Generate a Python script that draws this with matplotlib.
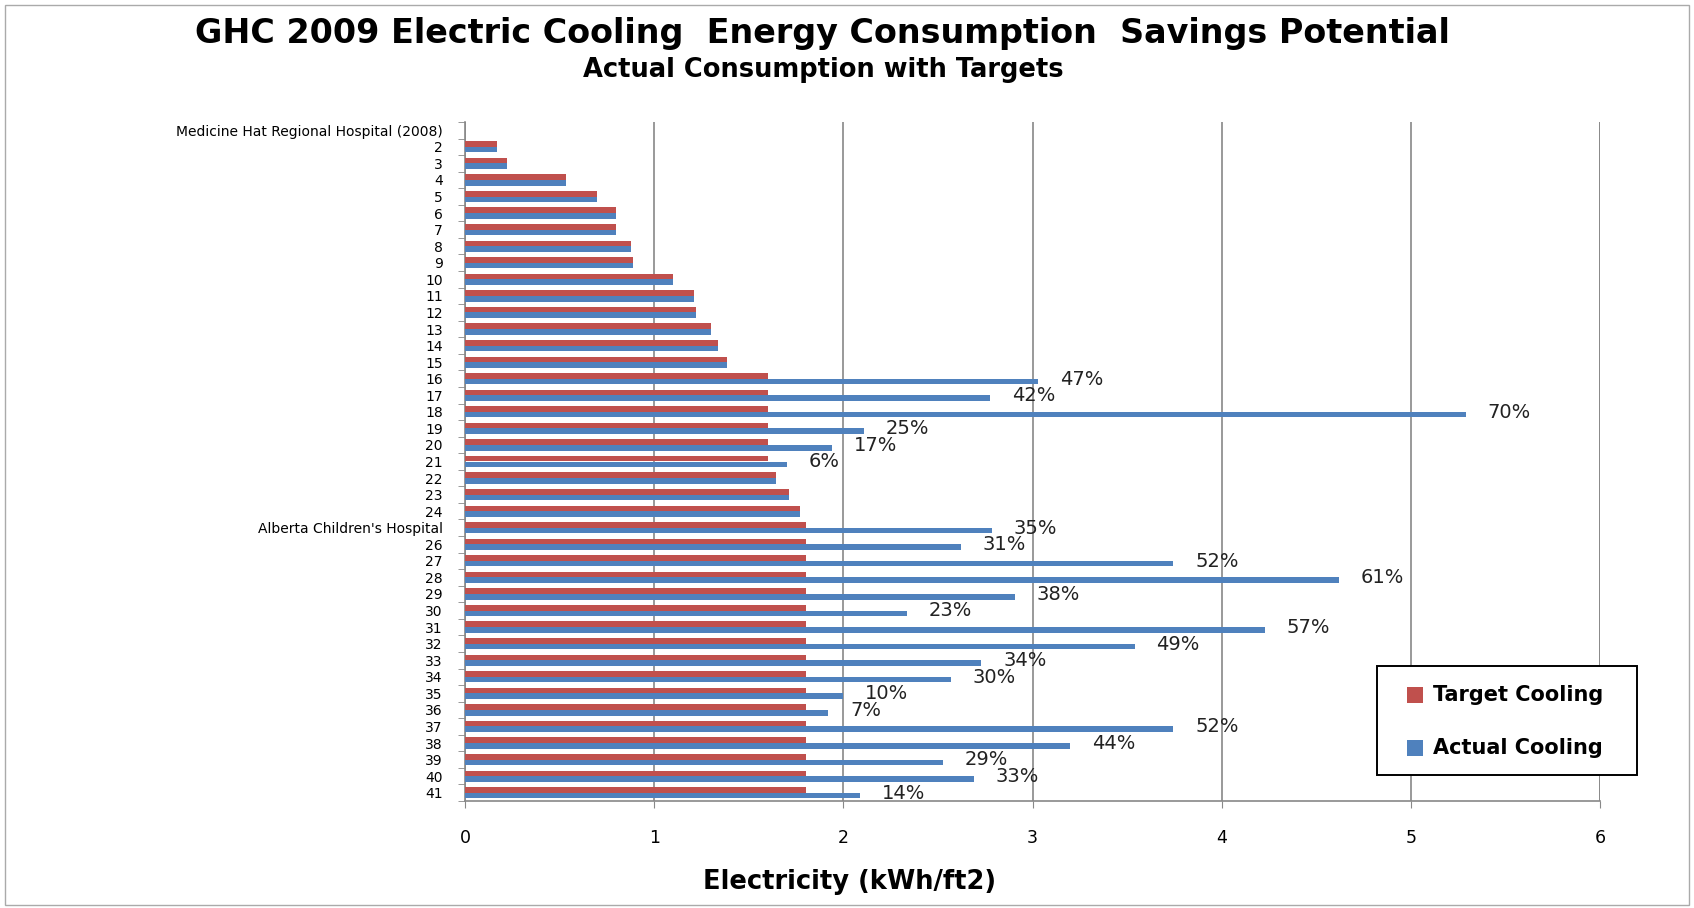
import numpy as np
import matplotlib
matplotlib.use("Agg")
import matplotlib.pyplot as plt
from matplotlib.patches import Rectangle

categories = ["Medicine Hat Regional Hospital (2008)"] + [str(i) for i in range(2, 25)] + \
             ["Alberta Children's Hospital"] + [str(i) for i in range(26, 42)]

target = [0, 0.17, 0.22, 0.535, 0.70, 0.80, 0.80, 0.88, 0.89, 1.10, 1.21, 1.22, 1.30, 1.34, 1.385,
          1.6, 1.6, 1.6, 1.6, 1.6, 1.6, 1.645, 1.715, 1.77] + [1.8] * 17

actual = [0, 0.17, 0.22, 0.535, 0.70, 0.80, 0.80, 0.88, 0.89, 1.10, 1.21, 1.22, 1.30, 1.34, 1.385,
          3.03, 2.775, 5.29, 2.11, 1.94, 1.70, 1.645, 1.715, 1.77,
          2.785, 2.62, 3.745, 4.62, 2.905, 2.335, 4.23, 3.54, 2.73, 2.57, 2.0, 1.92,
          3.745, 3.20, 2.525, 2.69, 2.09]

pct_labels = [""] * 15 + ["47%", "42%", "70%", "25%", "17%", "6%", "", "", "",
                          "35%", "31%", "52%", "61%", "38%", "23%", "57%", "49%", "34%",
                          "30%", "10%", "7%", "52%", "44%", "29%", "33%", "14%"]

series_names = ["Target Cooling", "Actual Cooling"]
x_ticks = [0, 1, 2, 3, 4, 5, 6]

RED = "#C0504D"
BLUE = "#4F81BD"
GRID = "#888888"

plt.rcParams['font.family'] = ['DejaVu Sans']

W, H = 1694, 908
fig = plt.figure(figsize=(W / 100, H / 100), dpi=100)
ax = fig.add_axes([465 / W, 1 - 801 / H, (1600 - 465) / W, (801 - 122) / H])

n = len(categories)
y = np.arange(n)
h = 0.34
ax.barh(y - h / 2, target, height=h, color=RED, label=series_names[0], zorder=3)
ax.barh(y + h / 2, actual, height=h, color=BLUE, label=series_names[1], zorder=3)

for i, (v, lab) in enumerate(zip(actual, pct_labels)):
    if lab:
        ax.text(v + 0.115, i + 0.02, lab, va="center", ha="left", fontsize=14, color="#222222")

ax.set_ylim(n - 0.5, -0.5)
ax.set_xlim(0, 6)
ax.set_xticks(x_ticks)
ax.set_xticklabels([str(t) for t in x_ticks], fontsize=12.5)
ax.set_yticks(y)
ax.set_yticklabels(categories, fontsize=10)
ax.set_yticks(np.arange(n + 1) - 0.5, minor=True)
ax.tick_params(axis="y", which="major", length=0, pad=16)
ax.tick_params(axis="y", which="minor", length=5, color=GRID, direction="out")
ax.tick_params(axis="x", which="major", length=5, color=GRID, direction="out", pad=15)

for s in ["top", "right"]:
    ax.spines[s].set_visible(False)
for s in ["left", "bottom"]:
    ax.spines[s].set_color(GRID)
    ax.spines[s].set_linewidth(1.2)

ax.grid(axis="x", color=GRID, linewidth=1.2, zorder=0)
ax.axvline(6, color=GRID, linewidth=1.2, zorder=0)
ax.set_axisbelow(True)

fig.text(850 / W, 1 - 882 / H, "Electricity (kWh/ft2)", ha="center", va="center",
         fontsize=18.5, fontweight="bold")

fig.text(822 / W, 1 - 33 / H, "GHC 2009 Electric Cooling  Energy Consumption  Savings Potential",
         ha="center", va="center", fontsize=24, fontweight="bold")
fig.text(823 / W, 1 - 70 / H, "Actual Consumption with Targets", ha="center", va="center",
         fontsize=18.5, fontweight="bold")

# legend box
fig.patches.append(Rectangle((1377 / W, 1 - 775 / H), 260 / W, 109 / H, transform=fig.transFigure,
                             fill=True, facecolor="white", edgecolor="black", linewidth=1.4,
                             zorder=5))
for k, (name, col) in enumerate(zip(series_names, [RED, BLUE])):
    cy = 695 + 53 * k
    fig.patches.append(Rectangle((1407 / W, 1 - (cy + 8) / H), 16 / W, 16 / H,
                                 transform=fig.transFigure, facecolor=col, edgecolor="none",
                                 zorder=6))
    fig.text(1433 / W, 1 - cy / H, name, ha="left", va="center", fontsize=15,
             fontweight="bold", zorder=7)

fig.patches.append(Rectangle((0.003, 0.003), 0.994, 0.991, transform=fig.transFigure,
                             fill=False, edgecolor="#AAAAAA", linewidth=1))

fig.savefig("out.png", dpi=100)
